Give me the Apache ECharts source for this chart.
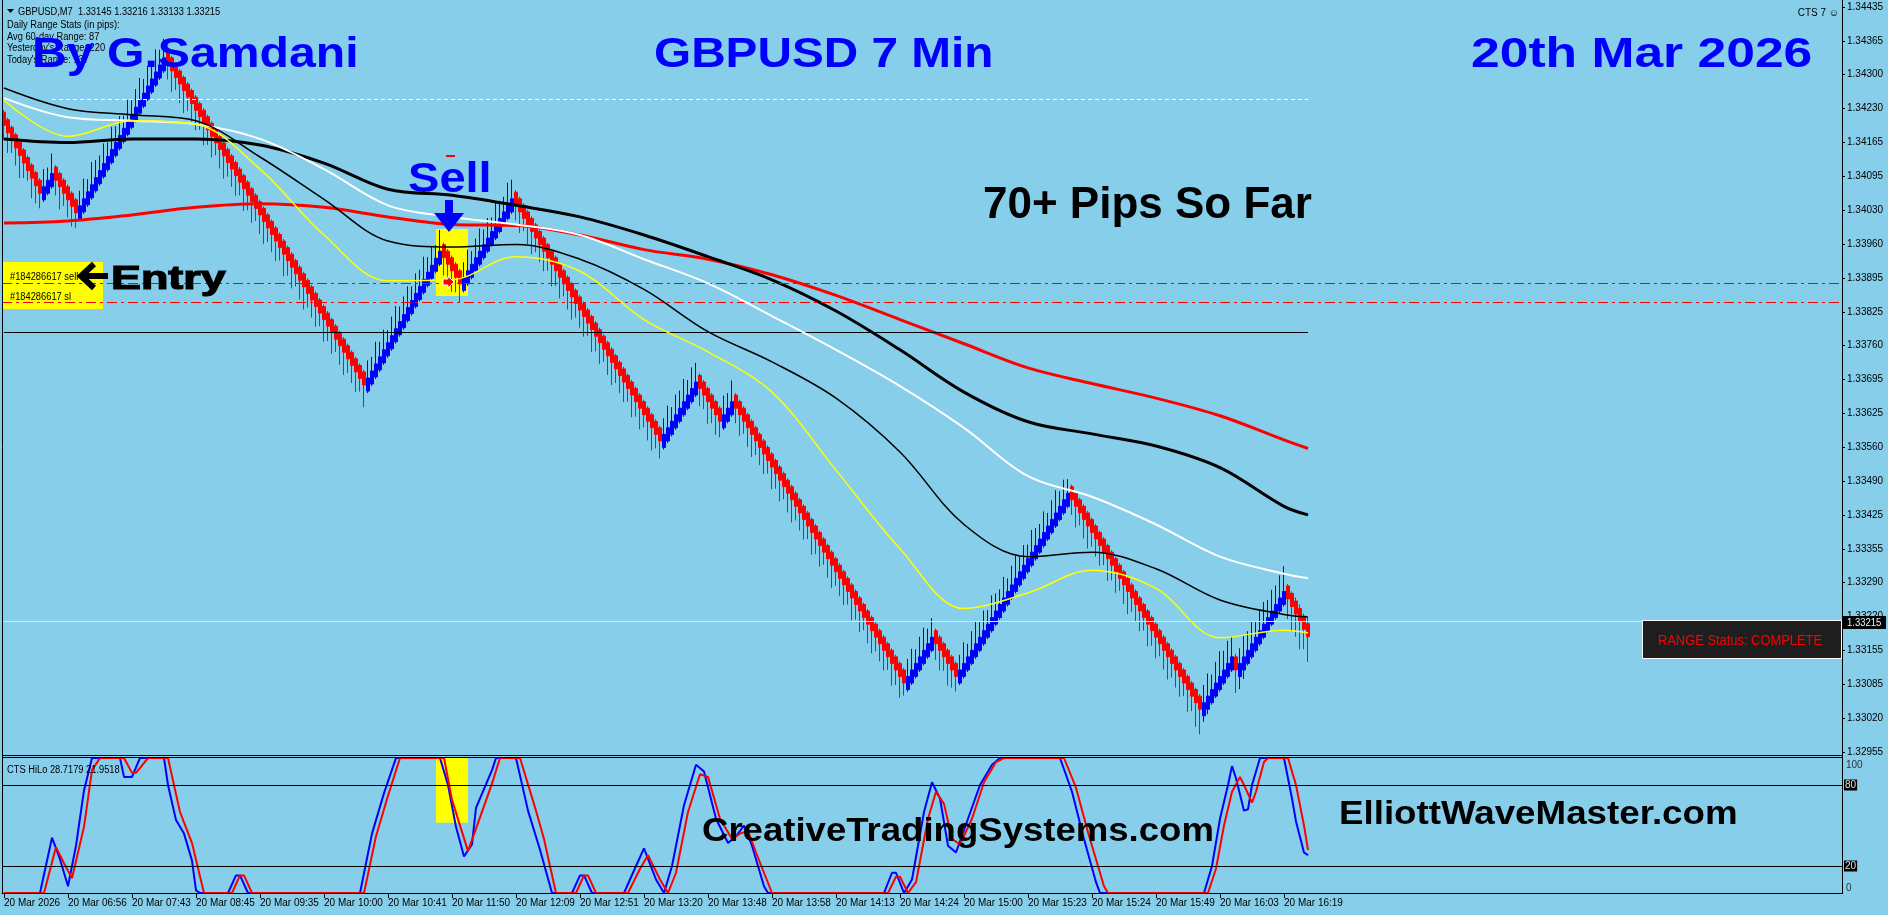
<!DOCTYPE html>
<html>
<head>
<meta charset="utf-8">
<title>GBPUSD 7 Min</title>
<script src="https://cdn.jsdelivr.net/npm/echarts@6/dist/echarts.min.js"></script>
<style>
  html, body { margin: 0; padding: 0; background: #87ceeb; }
  #chart { width: 1888px; height: 915px; }
</style>
</head>
<body>
<div id="chart"></div>
<script>
// ---- data ----
const timeLabels = ['20 Mar 2026', '20 Mar 06:56', '20 Mar 07:43', '20 Mar 08:45', '20 Mar 09:35', '20 Mar 10:00',
  '20 Mar 10:41', '20 Mar 11:50', '20 Mar 12:09', '20 Mar 12:51', '20 Mar 13:20', '20 Mar 13:48', '20 Mar 13:58',
  '20 Mar 14:13', '20 Mar 14:24', '20 Mar 15:00', '20 Mar 15:23', '20 Mar 15:24', '20 Mar 15:49', '20 Mar 16:03',
  '20 Mar 16:19'];

// renko-style bars (two-brick bodies)
const opens = [
  1.34226,1.34211,1.34196,1.34181,1.34166,1.34151,1.34136,1.34121,1.34106,1.34091,
  1.34052,1.34065,1.34078,
  1.34117,1.34104,1.34091,1.34078,1.34065,1.34052,
  1.34014,1.34028,1.34042,1.34056,1.34070,1.34084,1.34098,1.34112,1.34126,1.34140,1.34154,
  1.34168,1.34182,1.34196,1.34210,1.34224,1.34238,1.34252,1.34266,1.34280,1.34294,1.34308,
  1.34347,1.34334,1.34321,1.34308,1.34295,1.34282,1.34269,1.34256,1.34243,1.34230,
  1.34217,1.34204,1.34191,1.34178,1.34165,1.34152,1.34139,1.34126,1.34113,1.34100,
  1.34087,1.34074,1.34061,1.34048,1.34035,1.34022,1.34009,1.33996,1.33983,1.33970,
  1.33957,1.33944,1.33931,1.33918,1.33905,1.33892,1.33879,1.33866,1.33853,1.33840,
  1.33827,1.33814,1.33801,1.33788,1.33775,1.33762,1.33749,1.33736,1.33723,1.33710,
  1.33672,1.33686,1.33700,1.33714,1.33728,1.33742,1.33756,1.33770,1.33784,1.33798,
  1.33812,1.33826,1.33840,1.33854,1.33868,1.33882,1.33896,1.33910,1.33924,
  1.33963,1.33950,1.33937,1.33924,1.33911,
  1.33872,1.33885,1.33898,1.33911,1.33924,1.33937,1.33950,1.33963,1.33976,1.33989,1.34002,1.34015,1.34028,
  1.34067,1.34054,1.34041,1.34028,1.34015,1.34002,1.33989,1.33976,1.33963,1.33950,
  1.33937,1.33924,1.33911,1.33898,1.33885,1.33872,1.33859,1.33846,1.33833,1.33820,
  1.33807,1.33794,1.33781,1.33768,1.33755,1.33742,1.33729,1.33716,1.33703,1.33690,
  1.33677,1.33664,1.33651,1.33638,1.33625,1.33612,1.33599,
  1.33560,1.33573,1.33586,1.33599,1.33612,1.33625,1.33638,1.33651,1.33664,
  1.33703,1.33690,1.33677,1.33664,1.33651,1.33638,
  1.33599,1.33612,1.33625,
  1.33664,1.33651,1.33638,1.33625,1.33612,1.33599,1.33586,1.33573,1.33560,1.33547,
  1.33534,1.33521,1.33508,1.33495,1.33482,1.33469,1.33456,1.33443,1.33430,1.33417,
  1.33404,1.33391,1.33378,1.33365,1.33352,1.33339,1.33326,1.33313,1.33300,1.33287,
  1.33274,1.33261,1.33248,1.33235,1.33222,1.33209,1.33196,1.33183,1.33170,1.33157,
  1.33144,1.33131,1.33118,
  1.33079,1.33092,1.33105,1.33118,1.33131,1.33144,1.33157,
  1.33196,1.33183,1.33170,1.33157,1.33144,1.33131,
  1.33092,1.33105,1.33118,1.33131,1.33144,1.33157,1.33170,1.33183,1.33196,1.33209,
  1.33222,1.33235,1.33248,1.33261,1.33274,1.33287,1.33300,1.33313,1.33326,1.33339,
  1.33352,1.33365,1.33378,1.33391,1.33404,1.33417,1.33430,1.33443,
  1.33482,1.33469,1.33456,1.33443,1.33430,1.33417,1.33404,1.33391,1.33378,1.33365,
  1.33352,1.33339,1.33326,1.33313,1.33300,1.33287,1.33274,1.33261,1.33248,1.33235,
  1.33222,1.33209,1.33196,1.33183,1.33170,1.33157,1.33144,1.33131,1.33118,1.33105,
  1.33092,1.33079,1.33066,
  1.33027,1.33040,1.33053,1.33066,1.33079,1.33092,1.33105,1.33118,
  1.33144,
  1.33105,1.33118,1.33131,1.33144,1.33157,1.33170,1.33183,1.33196,1.33209,1.33222,1.33235,1.33248,
  1.33285,1.33270,1.33255,1.33240,1.33225,1.33210
];
const closes = [
  1.34200,1.34185,1.34170,1.34155,1.34140,1.34125,1.34110,1.34095,1.34080,1.34065,
  1.34078,1.34091,1.34104,
  1.34091,1.34078,1.34065,1.34052,1.34039,1.34026,
  1.34040,1.34054,1.34068,1.34082,1.34096,1.34110,1.34124,1.34138,1.34152,1.34166,1.34180,
  1.34194,1.34208,1.34222,1.34236,1.34250,1.34264,1.34278,1.34292,1.34306,1.34320,1.34334,
  1.34321,1.34308,1.34295,1.34282,1.34269,1.34256,1.34243,1.34230,1.34217,1.34204,
  1.34191,1.34178,1.34165,1.34152,1.34139,1.34126,1.34113,1.34100,1.34087,1.34074,
  1.34061,1.34048,1.34035,1.34022,1.34009,1.33996,1.33983,1.33970,1.33957,1.33944,
  1.33931,1.33918,1.33905,1.33892,1.33879,1.33866,1.33853,1.33840,1.33827,1.33814,
  1.33801,1.33788,1.33775,1.33762,1.33749,1.33736,1.33723,1.33710,1.33697,1.33684,
  1.33698,1.33712,1.33726,1.33740,1.33754,1.33768,1.33782,1.33796,1.33810,1.33824,
  1.33838,1.33852,1.33866,1.33880,1.33894,1.33908,1.33922,1.33936,1.33950,
  1.33937,1.33924,1.33911,1.33898,1.33885,
  1.33898,1.33911,1.33924,1.33937,1.33950,1.33963,1.33976,1.33989,1.34002,1.34015,1.34028,1.34041,1.34054,
  1.34041,1.34028,1.34015,1.34002,1.33989,1.33976,1.33963,1.33950,1.33937,1.33924,
  1.33911,1.33898,1.33885,1.33872,1.33859,1.33846,1.33833,1.33820,1.33807,1.33794,
  1.33781,1.33768,1.33755,1.33742,1.33729,1.33716,1.33703,1.33690,1.33677,1.33664,
  1.33651,1.33638,1.33625,1.33612,1.33599,1.33586,1.33573,
  1.33586,1.33599,1.33612,1.33625,1.33638,1.33651,1.33664,1.33677,1.33690,
  1.33677,1.33664,1.33651,1.33638,1.33625,1.33612,
  1.33625,1.33638,1.33651,
  1.33638,1.33625,1.33612,1.33599,1.33586,1.33573,1.33560,1.33547,1.33534,1.33521,
  1.33508,1.33495,1.33482,1.33469,1.33456,1.33443,1.33430,1.33417,1.33404,1.33391,
  1.33378,1.33365,1.33352,1.33339,1.33326,1.33313,1.33300,1.33287,1.33274,1.33261,
  1.33248,1.33235,1.33222,1.33209,1.33196,1.33183,1.33170,1.33157,1.33144,1.33131,
  1.33118,1.33105,1.33092,
  1.33105,1.33118,1.33131,1.33144,1.33157,1.33170,1.33183,
  1.33170,1.33157,1.33144,1.33131,1.33118,1.33105,
  1.33118,1.33131,1.33144,1.33157,1.33170,1.33183,1.33196,1.33209,1.33222,1.33235,
  1.33248,1.33261,1.33274,1.33287,1.33300,1.33313,1.33326,1.33339,1.33352,1.33365,
  1.33378,1.33391,1.33404,1.33417,1.33430,1.33443,1.33456,1.33469,
  1.33456,1.33443,1.33430,1.33417,1.33404,1.33391,1.33378,1.33365,1.33352,1.33339,
  1.33326,1.33313,1.33300,1.33287,1.33274,1.33261,1.33248,1.33235,1.33222,1.33209,
  1.33196,1.33183,1.33170,1.33157,1.33144,1.33131,1.33118,1.33105,1.33092,1.33079,
  1.33066,1.33053,1.33040,
  1.33053,1.33066,1.33079,1.33092,1.33105,1.33118,1.33131,1.33144,
  1.33118,
  1.33131,1.33144,1.33157,1.33170,1.33183,1.33196,1.33209,1.33222,1.33235,1.33248,1.33261,1.33274,
  1.33259,1.33244,1.33229,1.33214,1.33199,1.33184
];
const lows = [
  1.34170,1.34145,1.34145,1.34120,1.34095,1.34095,1.34090,1.34055,1.34045,1.34035,
  1.34048,1.34061,1.34074,
  1.34061,1.34033,1.34040,1.34017,1.33999,1.33996,
  1.34010,1.34024,1.34038,1.34052,1.34066,1.34080,1.34094,1.34108,1.34122,1.34136,1.34150,
  1.34164,1.34178,1.34192,1.34206,1.34220,1.34234,1.34248,1.34262,1.34276,1.34290,1.34304,
  1.34291,1.34266,1.34270,1.34244,1.34224,1.34228,1.34208,1.34190,1.34191,1.34160,
  1.34161,1.34136,1.34140,1.34114,1.34094,1.34098,1.34078,1.34060,1.34061,1.34030,
  1.34031,1.34006,1.34010,1.33984,1.33964,1.33968,1.33948,1.33930,1.33931,1.33900,
  1.33901,1.33876,1.33880,1.33854,1.33834,1.33838,1.33818,1.33800,1.33801,1.33770,
  1.33771,1.33746,1.33750,1.33724,1.33704,1.33708,1.33688,1.33670,1.33671,1.33640,
  1.33668,1.33682,1.33696,1.33710,1.33724,1.33738,1.33752,1.33766,1.33780,1.33794,
  1.33808,1.33822,1.33836,1.33850,1.33864,1.33878,1.33892,1.33906,1.33920,
  1.33902,1.33896,1.33869,1.33868,1.33847,
  1.33868,1.33881,1.33894,1.33907,1.33920,1.33933,1.33946,1.33959,1.33972,1.33985,1.33998,1.34011,1.34024,
  1.34011,1.33986,1.33990,1.33964,1.33944,1.33948,1.33928,1.33910,1.33911,1.33880,
  1.33881,1.33856,1.33860,1.33834,1.33814,1.33818,1.33798,1.33780,1.33781,1.33750,
  1.33751,1.33726,1.33730,1.33704,1.33684,1.33688,1.33668,1.33650,1.33651,1.33620,
  1.33621,1.33596,1.33600,1.33574,1.33554,1.33558,1.33538,
  1.33556,1.33569,1.33582,1.33595,1.33608,1.33621,1.33634,1.33647,1.33660,
  1.33642,1.33636,1.33607,1.33608,1.33585,1.33580,
  1.33595,1.33608,1.33621,
  1.33608,1.33583,1.33587,1.33561,1.33541,1.33545,1.33525,1.33507,1.33508,1.33477,
  1.33478,1.33453,1.33457,1.33431,1.33411,1.33415,1.33395,1.33377,1.33378,1.33347,
  1.33348,1.33323,1.33327,1.33301,1.33281,1.33285,1.33265,1.33247,1.33248,1.33217,
  1.33218,1.33193,1.33197,1.33171,1.33151,1.33155,1.33135,1.33117,1.33118,1.33087,
  1.33088,1.33063,1.33067,
  1.33075,1.33088,1.33101,1.33114,1.33127,1.33140,1.33153,
  1.33138,1.33117,1.33116,1.33087,1.33083,1.33075,
  1.33088,1.33101,1.33114,1.33127,1.33140,1.33153,1.33166,1.33179,1.33192,1.33205,
  1.33218,1.33231,1.33244,1.33257,1.33270,1.33283,1.33296,1.33309,1.33322,1.33335,
  1.33348,1.33361,1.33374,1.33387,1.33400,1.33413,1.33426,1.33439,
  1.33426,1.33401,1.33405,1.33379,1.33359,1.33363,1.33343,1.33325,1.33326,1.33295,
  1.33296,1.33271,1.33275,1.33249,1.33229,1.33233,1.33213,1.33195,1.33196,1.33165,
  1.33166,1.33141,1.33145,1.33119,1.33099,1.33103,1.33083,1.33065,1.33066,1.33035,
  1.33036,1.33005,1.32990,
  1.33015,1.33030,1.33049,1.33062,1.33075,1.33088,1.33101,1.33114,
  1.33072,
  1.33080,1.33100,1.33127,1.33140,1.33153,1.33166,1.33179,1.33192,1.33205,1.33218,1.33231,1.33244,
  1.33219,1.33194,1.33184,1.33159,1.33159,1.33134
];
const highs = [
  1.34230,1.34215,1.34200,1.34185,1.34170,1.34155,1.34140,1.34125,1.34110,1.34095,
  1.34113,1.34116,1.34144,
  1.34121,1.34108,1.34095,1.34082,1.34069,1.34056,
  1.34070,1.34094,1.34093,1.34127,1.34131,1.34140,1.34164,1.34166,1.34197,1.34198,1.34218,
  1.34219,1.34250,1.34252,1.34272,1.34294,1.34292,1.34318,1.34325,1.34351,1.34350,1.34372,
  1.34351,1.34338,1.34325,1.34312,1.34299,1.34286,1.34273,1.34260,1.34247,1.34234,
  1.34221,1.34208,1.34195,1.34182,1.34169,1.34156,1.34143,1.34130,1.34117,1.34104,
  1.34091,1.34078,1.34065,1.34052,1.34039,1.34026,1.34013,1.34000,1.33987,1.33974,
  1.33961,1.33948,1.33935,1.33922,1.33909,1.33896,1.33883,1.33870,1.33857,1.33844,
  1.33831,1.33818,1.33805,1.33792,1.33779,1.33766,1.33753,1.33740,1.33727,1.33714,
  1.33733,1.33740,1.33770,1.33770,1.33794,1.33793,1.33820,1.33841,1.33840,1.33860,
  1.33880,1.33880,1.33906,1.33913,1.33939,1.33938,1.33960,1.33962,1.33992,
  1.33967,1.33954,1.33941,1.33928,1.33915,
  1.33928,1.33953,1.33950,1.33975,1.33995,1.33993,1.34016,1.34017,1.34046,1.34050,1.34058,1.34086,1.34092,
  1.34071,1.34058,1.34045,1.34032,1.34019,1.34006,1.33993,1.33980,1.33967,1.33954,
  1.33941,1.33928,1.33915,1.33902,1.33889,1.33876,1.33863,1.33850,1.33837,1.33824,
  1.33811,1.33798,1.33785,1.33772,1.33759,1.33746,1.33733,1.33720,1.33707,1.33694,
  1.33681,1.33668,1.33655,1.33642,1.33629,1.33616,1.33603,
  1.33618,1.33643,1.33640,1.33665,1.33673,1.33696,1.33694,1.33719,1.33728,
  1.33707,1.33694,1.33681,1.33668,1.33655,1.33642,
  1.33663,1.33668,1.33693,
  1.33668,1.33655,1.33642,1.33629,1.33616,1.33603,1.33590,1.33577,1.33564,1.33551,
  1.33538,1.33525,1.33512,1.33499,1.33486,1.33473,1.33460,1.33447,1.33434,1.33421,
  1.33408,1.33395,1.33382,1.33369,1.33356,1.33343,1.33330,1.33317,1.33304,1.33291,
  1.33278,1.33265,1.33252,1.33239,1.33226,1.33213,1.33200,1.33187,1.33174,1.33161,
  1.33148,1.33135,1.33122,
  1.33140,1.33160,1.33159,1.33184,1.33202,1.33200,1.33221,
  1.33200,1.33187,1.33174,1.33161,1.33148,1.33135,
  1.33148,1.33173,1.33170,1.33195,1.33215,1.33213,1.33236,1.33237,1.33266,1.33270,
  1.33278,1.33303,1.33300,1.33325,1.33345,1.33343,1.33366,1.33367,1.33396,1.33400,
  1.33408,1.33433,1.33430,1.33455,1.33475,1.33473,1.33496,1.33497,
  1.33486,1.33473,1.33460,1.33447,1.33434,1.33421,1.33408,1.33395,1.33382,1.33369,
  1.33356,1.33343,1.33330,1.33317,1.33304,1.33291,1.33278,1.33265,1.33252,1.33239,
  1.33226,1.33213,1.33200,1.33187,1.33174,1.33161,1.33148,1.33135,1.33122,1.33109,
  1.33096,1.33083,1.33070,
  1.33088,1.33111,1.33109,1.33134,1.33155,1.33156,1.33176,1.33184,
  1.33150,
  1.33161,1.33186,1.33195,1.33215,1.33213,1.33236,1.33253,1.33257,1.33277,1.33286,1.33306,1.33324,
  1.33289,1.33274,1.33262,1.33248,1.33230,1.33222
];

// moving averages, read every 16 bars
const maIdx = [0, 16, 32, 48, 64, 80, 96, 112, 128, 144, 160, 176, 192, 208, 224, 240, 256, 272, 288, 304, 320, 326];
const maRed = [1.34006,1.34010,1.34022,1.34037,1.34044,1.34037,1.34018,1.34003,1.34001,1.33982,1.33953,
  1.33934,1.33903,1.33862,1.33814,1.33766,1.33718,1.33687,1.33658,1.33623,1.33575,1.33558];
const maBlack = [1.34173,1.34166,1.34173,1.34173,1.34161,1.34125,1.34073,1.34061,1.34041,1.34018,1.33982,
  1.33939,1.33893,1.33831,1.33754,1.33670,1.33611,1.33587,1.33563,1.33520,1.33443,1.33426];
const maWhite = [1.34254,1.34216,1.34209,1.34202,1.34173,1.34113,1.34041,1.34018,1.34003,1.33982,1.33934,
  1.33886,1.33821,1.33754,1.33682,1.33599,1.33503,1.33462,1.33407,1.33343,1.33309,1.33300];
const maThin = [1.34274,1.34233,1.34221,1.34209,1.34137,1.34053,1.33970,1.33958,1.33963,1.33934,1.33874,
  1.33790,1.33730,1.33658,1.33551,1.33407,1.33343,1.33352,1.33319,1.33257,1.33228,1.33223];
const maYellow = [1.34250,1.34178,1.34209,1.34202,1.34113,1.33982,1.33891,1.33893,1.33939,1.33910,1.33814,
  1.33750,1.33670,1.33515,1.33359,1.33240,1.33271,1.33316,1.33280,1.33182,1.33197,1.33192];

// price levels
const entryLevel = 1.33887;
const slLevel = 1.33849;
const bidLevel = 1.33215;
const blackLevel = 1.33788;
const whiteLevel = 1.34252;

// CTS HiLo oscillator, [bar, value] at turning points
const hiloBlue = [[0,0],[9,0],[12,41],[14,25],[16,5],[18,35],[20,76],[22,100],[29,100],[30,86],[32,86],[34,100],
  [40,100],[41,80],[43,54],[45,44],[47,24],[48,2],[49,0],[56,0],[58,13],[59,13],[61,0],[89,0],[92,44],[95,74],
  [98,100],[109,100],[111,80],[113,49],[115,27],[117,36],[118,63],[122,91],[123,100],[128,100],[131,61],[134,32],
  [137,0],[142,0],[144,13],[145,13],[147,0],[155,0],[158,20],[160,33],[163,10],[165,0],[167,20],[170,65],[173,95],
  [175,90],[178,55],[181,37],[183,42],[185,50],[187,35],[190,5],[191,0],[220,0],[222,15],[223,15],[225,0],[227,10],
  [230,60],[232,82],[234,70],[236,35],[238,30],[241,55],[244,80],[247,95],[249,100],[264,100],[267,75],[270,40],
  [273,8],[274,0],[300,0],[302,20],[304,55],[306,80],[307,94],[308,85],[310,61],[311,62],[312,80],[314,100],
  [320,100],[322,70],[323,53],[325,30],[326,28]];
const hiloRed = [[0,0],[10,0],[13,34],[15,22],[17,11],[20,49],[22,91],[24,100],[30,100],[32,89],[33,89],[36,100],
  [41,100],[44,60],[47,37],[50,0],[57,0],[59,13],[60,13],[62,0],[90,0],[93,42],[96,72],[99,100],[110,100],
  [112,69],[116,31],[119,56],[122,81],[124,100],[129,100],[133,61],[135,40],[138,0],[143,0],[145,13],[146,13],
  [148,0],[156,0],[159,18],[161,28],[164,10],[166,0],[168,15],[171,60],[174,88],[176,86],[179,55],[182,40],
  [184,44],[186,46],[188,30],[192,0],[221,0],[223,12],[224,12],[226,0],[228,8],[231,55],[233,75],[235,66],
  [237,40],[239,36],[242,55],[245,82],[248,97],[250,100],[265,100],[268,78],[271,45],[275,5],[276,0],[301,0],
  [303,18],[305,50],[307,75],[309,86],[310,80],[312,67],[313,75],[315,97],[316,100],[321,100],[323,80],[325,50],
  [326,32]];

// ---- chart ----
const SLOTS = 460;
const PRICE_MIN = 1.32955;
const PRICE_MAX = 1.34435;
const PRICE_STEP = (PRICE_MAX - PRICE_MIN) / 22;
const FONT_UI = "'Liberation Sans',Arial,sans-serif";
const FONT_BIG = "'Liberation Sans',Arial,sans-serif";

const cats = Array.from({ length: SLOTS }, (_, i) => String(i));
const candles = closes.map((c, i) => [opens[i], c, lows[i], highs[i]]);
const pairs = (vals) => maIdx.map((x, i) => [x, vals[i]]);
const isLabelBar = (i) => i % 16 === 0 && i / 16 < timeLabels.length;

function maLine(name, vals, color, width, z) {
  return {
    name, type: 'line', xAxisIndex: 0, yAxisIndex: 0, data: pairs(vals),
    smooth: 0.35, showSymbol: false, z, silent: true,
    lineStyle: { color, width }
  };
}

function txt(x, y, text, font, fill, extra, align) {
  const a = align || 'left';
  return Object.assign({
    type: 'text', x, y, z: 100, silent: true,
    style: { text, font, fill, textAlign: a, align: a, textVerticalAlign: 'middle', verticalAlign: 'middle' }
  }, extra || {});
}
function hline(x1, x2, y) {
  return { type: 'line', z: 30, silent: true, shape: { x1, y1: y, x2, y2: y }, style: { stroke: '#000', lineWidth: 1 } };
}
function vline(x, y1, y2) {
  return { type: 'line', z: 30, silent: true, shape: { x1: x, y1, x2: x, y2 }, style: { stroke: '#000', lineWidth: 1 } };
}

const small = `10px ${FONT_UI}`;
const narrow = { scaleX: 0.93 };
const graphics = [
  // frames
  vline(2.5, 0, 893), vline(1842.5, 0, 894),
  hline(2, 1842, 755.5), hline(2, 1842, 757.5), hline(2, 1842, 893.5),
  // header info
  { type: 'polygon', z: 90, silent: true, shape: { points: [[7, 9], [14, 9], [10.5, 13]] }, style: { fill: '#000' } },
  txt(18, 12, 'GBPUSD,M7  1.33145 1.33216 1.33133 1.33215', small, '#000', Object.assign({ z: 90 }, narrow)),
  txt(7, 25, 'Daily Range Stats (in pips):', small, '#000', Object.assign({ z: 90 }, narrow)),
  txt(7, 37, 'Avg 60-day Range: 87', small, '#000', Object.assign({ z: 90 }, narrow)),
  txt(7, 48, "Yesterday's Range: 220", small, '#000', Object.assign({ z: 90 }, narrow)),
  txt(7, 60, "Today's Range: 137", small, '#000', Object.assign({ z: 90 }, narrow)),
  txt(1839, 13, 'CTS 7 \u263a', small, '#000', null, 'right'),
  // titles
  txt(32, 55, 'By G.Samdani', `bold 43px ${FONT_BIG}`, '#0000ff', { scaleX: 1.12 }),
  txt(654, 55, 'GBPUSD 7 Min', `bold 43px ${FONT_BIG}`, '#0000ff', { scaleX: 1.11 }),
  txt(1471, 55, '20th Mar 2026', `bold 43px ${FONT_BIG}`, '#0000ff', { scaleX: 1.2 }),
  txt(408, 180, 'Sell', `bold 42px ${FONT_BIG}`, '#0000ff', { scaleX: 1.12 }),
  txt(983, 206, '70+ Pips So Far', `bold 44px ${FONT_BIG}`, '#000'),
  { type: 'text', x: 111, y: 280, z: 100, silent: true, scaleX: 1.36,
    style: { text: 'Entry', font: `bold 33px ${FONT_BIG}`, fill: '#000', stroke: '#000', lineWidth: 1.2,
      textAlign: 'left', align: 'left', textVerticalAlign: 'middle', verticalAlign: 'middle' } },
  txt(702, 832, 'CreativeTradingSystems.com', `bold 34px ${FONT_BIG}`, '#000', { scaleX: 1.075 }),
  txt(1339, 815, 'ElliottWaveMaster.com', `bold 34px ${FONT_BIG}`, '#000', { scaleX: 1.08 }),
  // sell arrow and order marks
  { type: 'polygon', z: 100, silent: true,
    shape: { points: [[445, 200], [453, 200], [453, 213], [464, 213], [449, 232], [434, 213], [445, 213]] },
    style: { fill: '#0000ff' } },
  { type: 'line', z: 60, silent: true, shape: { x1: 446, y1: 156, x2: 455, y2: 156 }, style: { stroke: '#ff0000', lineWidth: 2 } },
  { type: 'polygon', z: 60, silent: true,
    shape: { points: [[443, 279], [448, 279], [448, 276], [454, 282], [448, 288], [448, 285], [443, 285]] },
    style: { fill: '#ff0000', stroke: '#fff', lineWidth: 1 } },
  // entry tag
  { type: 'rect', z: 0, silent: true, shape: { x: 3, y: 262, width: 100, height: 47 }, style: { fill: '#ffff00' } },
  txt(10, 277, '#184286617 sell', small, '#000', Object.assign({ z: 40 }, narrow)),
  txt(10, 297, '#184286617 sl', small, '#000', Object.assign({ z: 40 }, narrow)),
  { type: 'polyline', z: 100, silent: true, shape: { points: [[94, 264], [81, 276], [94, 288]] },
    style: { stroke: '#000', lineWidth: 6, fill: null } },
  { type: 'line', z: 100, silent: true, shape: { x1: 81, y1: 276, x2: 108, y2: 276 }, style: { stroke: '#000', lineWidth: 6 } },
  // range status box
  { type: 'rect', z: 50, silent: true, shape: { x: 1642.5, y: 620.5, width: 199, height: 38 },
    style: { fill: '#1e1e1e', stroke: '#fff', lineWidth: 1 } },
  txt(1740, 641, 'RANGE Status: COMPLETE', `15px ${FONT_UI}`, '#ff0000', { z: 60, scaleX: 0.86 }, 'center'),
  // last price tag on axis
  { type: 'rect', z: 50, silent: true, shape: { x: 1843, y: 616, width: 43, height: 13 }, style: { fill: '#000' } },
  txt(1847, 623.5, '1.33215', `10px ${FONT_UI}`, '#e6f6ff', { z: 60, scaleX: 0.95 }),
  // oscillator labels
  txt(7, 770, 'CTS HiLo 28.7179 21.9518', small, '#000', Object.assign({ z: 90 }, narrow)),
  txt(1846, 765, '100', `10px ${FONT_UI}`, '#333'),
  txt(1846, 888, '0', `10px ${FONT_UI}`, '#333')
];

const option = {
  backgroundColor: '#87ceeb',
  animation: false,
  grid: [
    { left: 2, top: 7, width: 1840, height: 745, outerBoundsMode: 'none' },
    { left: 2, top: 758, width: 1840, height: 135, outerBoundsMode: 'none' }
  ],
  xAxis: [
    { type: 'category', gridIndex: 0, data: cats, boundaryGap: true,
      axisLine: { show: false }, axisTick: { show: false }, axisLabel: { show: false }, splitLine: { show: false } },
    { type: 'category', gridIndex: 1, data: cats, boundaryGap: true,
      axisLine: { show: true, lineStyle: { color: '#000', width: 1 } },
      axisTick: { show: true, interval: isLabelBar, alignWithLabel: true, length: 5, lineStyle: { color: '#000' } },
      axisLabel: { interval: isLabelBar, formatter: (v) => timeLabels[Number(v) / 16] || '', align: 'left',
        margin: 5, color: '#000', fontSize: 10, fontFamily: FONT_UI },
      splitLine: { show: false } }
  ],
  yAxis: [
    { type: 'value', gridIndex: 0, position: 'right', min: PRICE_MIN, max: PRICE_MAX, interval: PRICE_STEP,
      axisLine: { show: true, lineStyle: { color: '#000' } },
      axisTick: { show: true, length: 3, lineStyle: { color: '#000' } },
      axisLabel: { margin: 5, color: '#000', fontSize: 10, fontFamily: FONT_UI,
        formatter: (v) => (Math.floor(v * 20000 + 1e-3) / 20000).toFixed(5) },
      splitLine: { show: false } },
    { type: 'value', gridIndex: 1, position: 'right', min: 0, max: 100, interval: 20,
      axisLine: { show: true, lineStyle: { color: '#000' } },
      axisTick: { show: false },
      axisLabel: { margin: 2, fontSize: 10, fontFamily: FONT_UI,
        formatter: (v) => (v === 20 || v === 80 ? '{b|' + v + '}' : ''),
        rich: { b: { backgroundColor: '#000', color: '#e0e0e0', fontSize: 10, fontFamily: FONT_UI, padding: [1, 1, 0, 1] } } },
      splitLine: { show: false } }
  ],
  series: [
    { name: 'levels', type: 'line', xAxisIndex: 0, yAxisIndex: 0, data: [], z: 1, silent: true,
      markArea: { silent: true, itemStyle: { color: '#ffff00', opacity: 1 },
        data: [[{ xAxis: 108, yAxis: 1.33994 }, { xAxis: 116, yAxis: 1.33861 }]] },
      markLine: { silent: true, symbol: ['none', 'none'], label: { show: false }, animation: false, precision: 5,
        data: [
          { yAxis: entryLevel, lineStyle: { color: '#008000', width: 1, type: [10, 4, 3, 4] } },
          { yAxis: slLevel, lineStyle: { color: '#ff0000', width: 1, type: [10, 4, 3, 4] } },
          { yAxis: bidLevel, lineStyle: { color: '#ffff00', width: 1, type: 'solid' } },
          [{ coord: [0, blackLevel], lineStyle: { color: '#000', width: 1, type: 'solid' } }, { coord: [326, blackLevel] }],
          [{ coord: [12, whiteLevel], lineStyle: { color: '#ffffff', width: 1, type: [4, 3] } }, { coord: [326, whiteLevel] }]
        ] } },
    { name: 'GBPUSD', type: 'candlestick', xAxisIndex: 0, yAxisIndex: 0, data: candles, z: 3,
      barWidth: 3, silent: true,
      itemStyle: { color: '#0000ff', color0: '#ff0000', borderColor: '#0000ff', borderColor0: '#ff0000', borderWidth: 1 } },
    maLine('ma red', maRed, '#ff0000', 3, 4),
    maLine('ma black', maBlack, '#000000', 3, 4),
    maLine('ma white', maWhite, '#ffffff', 2, 5),
    maLine('ma thin', maThin, '#000000', 1.5, 5),
    maLine('ma yellow', maYellow, '#ffff00', 1.5, 6),
    { name: 'hilo levels', type: 'line', xAxisIndex: 1, yAxisIndex: 1, data: [], z: 1, silent: true,
      markArea: { silent: true, itemStyle: { color: '#ffff00', opacity: 1 },
        data: [[{ xAxis: 108, yAxis: 100 }, { xAxis: 116, yAxis: 52 }]] },
      markLine: { silent: true, symbol: ['none', 'none'], label: { show: false }, animation: false,
        lineStyle: { color: '#000', width: 1, type: 'solid' },
        data: [{ yAxis: 80 }, { yAxis: 20 }] } },
    { name: 'hilo fast', type: 'line', xAxisIndex: 1, yAxisIndex: 1, data: hiloBlue, z: 3, silent: true,
      showSymbol: false, lineStyle: { color: '#0000ff', width: 2 } },
    { name: 'hilo slow', type: 'line', xAxisIndex: 1, yAxisIndex: 1, data: hiloRed, z: 4, silent: true,
      showSymbol: false, lineStyle: { color: '#ff0000', width: 2 } }
  ],
  graphic: { elements: graphics }
};

const chart = echarts.init(document.getElementById('chart'));
chart.setOption(option);
</script>
</body>
</html>
